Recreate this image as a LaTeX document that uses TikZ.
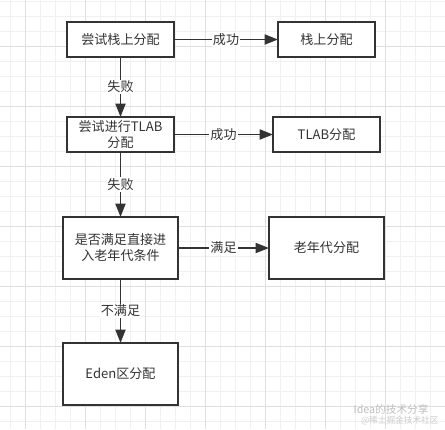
\documentclass[tikz,border=0pt]{standalone}
\usepackage{fontspec}
\newfontfamily\cjk{Noto Sans CJK SC}
\usetikzlibrary{positioning,arrows.meta}
\definecolor{ink}{HTML}{333333}

\begin{document}
\begin{tikzpicture}[x=0.75pt,y=-0.75pt,every node/.style={outer sep=0pt},
        box/.style={draw=ink,line width=1.6pt,fill=white,text=ink,font=\cjk\fontsize{9.8}{12}\selectfont,
        align=center,minimum width=80.25pt,minimum height=26.25pt,inner sep=1pt},
        bigbox/.style={box,minimum width=86.25pt,minimum height=46.5pt},
        flow/.style={draw=ink,line width=1.3pt,-{Triangle[length=10pt,width=7.5pt]}},
        lbl/.style={fill=white,text=ink,font=\cjk\fontsize{9.8}{12}\selectfont,inner sep=1pt},
        gridline/.style={draw=gray!12,line width=0.6pt},
        gridmajor/.style={draw=gray!25,line width=0.6pt}]

        \useasboundingbox[fill=white] (0,0) rectangle (445,429);
        % Grid
        \foreach \i in {0,...,29} \draw[gridline] ({10.7+15*\i},0) -- ++(0,429);
        \foreach \i in {0,...,28} \draw[gridline] (0,{1.7+15*\i}) -- ++(445,0);
        \foreach \i in {0,...,7} \draw[gridmajor] ({25.7+60*\i},0) -- ++(0,429);
        \foreach \i in {0,...,6} \draw[gridmajor] (0,{46.7+60*\i}) -- ++(445,0);

        % Left column
        \node[box] (stack) at (120.5,39.5) {尝试栈上分配};
        \node[box,below=45pt of stack] (tlab) {尝试进行TLAB\\分配};
        \node[bigbox,below=48.75pt of tlab] (old) {是否满足直接进\\入老年代条件};
        \node[bigbox,below=48pt of old] (eden) {Eden区分配};
        % Right column
        \node[box,right=78pt of stack,minimum width=72.75pt] (stackok) {栈上分配};
        \node[box,right=74.25pt of tlab] (tlabok) {TLAB分配};
        \node[bigbox,right=68.25pt of old] (oldok) {老年代分配};

        \draw[flow] (stack) -- (stackok) node[midway,lbl]{成功};
        \draw[flow] (tlab) -- (tlabok) node[midway,lbl]{成功};
        \draw[flow] (old) -- (oldok) node[midway,lbl]{满足};
        \draw[flow] (stack) -- (tlab) node[midway,lbl]{失败};
        \draw[flow] (tlab) -- (old) node[midway,lbl]{失败};
        \draw[flow] (old) -- (eden) node[midway,lbl]{不满足};

        % Watermark
        \node[text=gray!50,font=\cjk\fontsize{8}{9}\selectfont,anchor=east] (wm1) at (433,409) {Idea的技术分享};
        \node[text=gray!40,font=\cjk\fontsize{6.5}{7}\selectfont,anchor=east] (wm2) at (443,421) {@稀土掘金技术社区};
\end{tikzpicture}
\end{document}
